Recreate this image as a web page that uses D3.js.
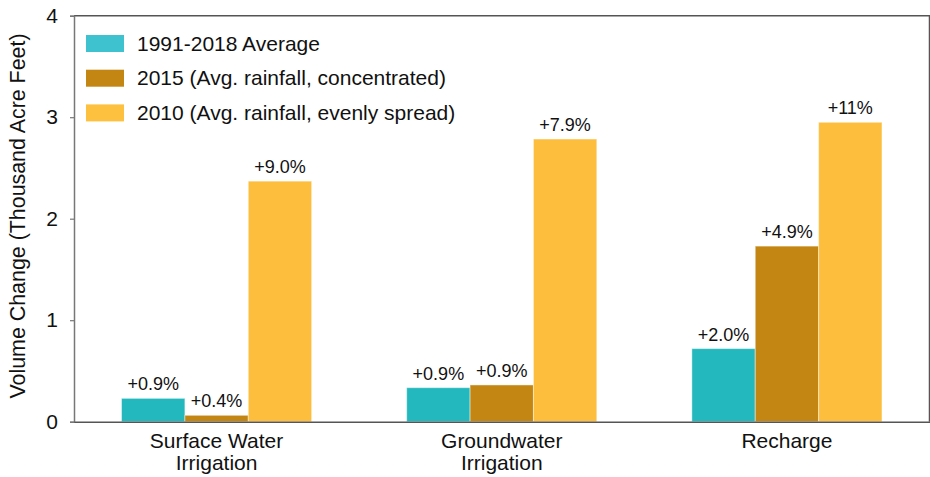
<!DOCTYPE html>
<html>
<head>
<meta charset="utf-8">
<script src="https://cdn.jsdelivr.net/npm/d3@7"></script>
<style>
  html, body { margin: 0; padding: 0; background: #fff; }
  svg { display: block; font-family: "Liberation Sans", Arial, Helvetica, sans-serif; }
</style>
</head>
<body>
<svg id="chart" width="930" height="477"></svg>
<script>
// Categories (multi-line labels) and series
const categories = ["Surface Water|Irrigation", "Groundwater|Irrigation", "Recharge"];
const seriesNames = [
  "1991-2018 Average",
  "2015 (Avg. rainfall, concentrated)",
  "2010 (Avg. rainfall, evenly spread)"
];
// Volume change, thousand acre-feet
const avgValues   = [0.23, 0.335, 0.72];
const values2015  = [0.063, 0.362, 1.73];
const values2010  = [2.37, 2.785, 2.95];
// Percent-change labels shown above each bar
const avgLabels   = ["+0.9%", "+0.9%", "+2.0%"];
const labels2015  = ["+0.4%", "+0.9%", "+4.9%"];
const labels2010  = ["+9.0%", "+7.9%", "+11%"];
const yTicks = [0, 1, 2, 3, 4];

const barColors    = ["#22b8bd", "#c48612", "#fdbe3d"];
const legendColors = ["#3ec2cf", "#c48612", "#fec03f"];

const seriesValues = [avgValues, values2015, values2010];
const seriesLabels = [avgLabels, labels2015, labels2010];

const svg = d3.select("#chart");
const plotLeft = 74, plotRight = 929.5, plotTop = 15.7, plotBottom = 421.7;

const x = d3.scaleBand().domain(categories).range([plotLeft, plotRight])
  .paddingInner(1 / 3).paddingOuter(1 / 6);
const xs = d3.scaleBand().domain(d3.range(seriesNames.length)).range([0, x.bandwidth()]);
const y = d3.scaleLinear().domain([0, 4]).range([plotBottom, plotTop]);

// Bars
const groups = svg.append("g").selectAll("g")
  .data(categories).join("g")
  .attr("transform", d => `translate(${x(d)},0)`);

groups.each(function (cat, ci) {
  const g = d3.select(this);
  seriesNames.forEach((s, si) => {
    const v = seriesValues[si][ci];
    g.append("rect")
      .attr("x", xs(si))
      .attr("y", y(v))
      .attr("width", xs.bandwidth())
      .attr("height", y(0) - y(v))
      .attr("fill", barColors[si])
      .attr("stroke", "rgba(255,255,255,0.45)")
      .attr("stroke-width", 1);
    g.append("text")
      .attr("x", xs(si) + xs.bandwidth() / 2)
      .attr("y", y(v) - 8)
      .attr("text-anchor", "middle")
      .attr("font-size", "18px")
      .attr("fill", "#111")
      .text(seriesLabels[si][ci]);
  });
});

// Frame (top and right)
svg.append("path")
  .attr("d", `M${plotLeft},${plotTop}H${plotRight}V${plotBottom}`)
  .attr("fill", "none").attr("stroke", "#555").attr("stroke-width", 1.5);

// Y axis
const yAxis = svg.append("g")
  .attr("transform", `translate(${plotLeft},0)`)
  .call(d3.axisLeft(y).tickValues(yTicks).tickFormat(d3.format("d")).tickSize(4).tickPadding(12));
yAxis.select(".domain").attr("stroke", "#777").attr("stroke-width", 1.5);
yAxis.selectAll(".tick line").attr("stroke", "#777").attr("stroke-width", 1.2);
yAxis.selectAll(".tick text").attr("font-size", "21px").attr("fill", "#111")
  .attr("font-family", "'Liberation Sans', Arial, sans-serif");

// X axis baseline
const xAxis = svg.append("g")
  .attr("transform", `translate(0,${plotBottom})`)
  .call(d3.axisBottom(x).tickSize(0).tickFormat(""));
xAxis.select(".domain").attr("stroke", "#555").attr("stroke-width", 1.5);

// Category labels
svg.append("g").selectAll("text")
  .data(categories).join("text")
  .attr("x", d => x(d) + x.bandwidth() / 2)
  .attr("y", 448)
  .attr("text-anchor", "middle")
  .attr("font-size", "21px")
  .attr("fill", "#111")
  .each(function (d) {
    d.split("|").forEach((line, i) => {
      d3.select(this).append("tspan")
        .attr("x", x(d) + x.bandwidth() / 2)
        .attr("dy", i === 0 ? 0 : 22)
        .text(line);
    });
  });

// Y axis title
svg.append("text")
  .attr("transform", "translate(24.5,216) rotate(-90)")
  .attr("text-anchor", "middle")
  .attr("font-size", "21.4px")
  .attr("fill", "#111")
  .text("Volume Change (Thousand Acre Feet)");

// Legend
const legend = svg.append("g").selectAll("g")
  .data(seriesNames).join("g")
  .attr("transform", (d, i) => `translate(86,${35 + i * 34.7})`);
legend.append("rect")
  .attr("width", 38).attr("height", 17)
  .attr("fill", (d, i) => legendColors[i]);
legend.append("text")
  .attr("x", 51).attr("y", 15.5)
  .attr("font-size", "21px")
  .attr("fill", "#111")
  .text(d => d);
</script>
</body>
</html>
